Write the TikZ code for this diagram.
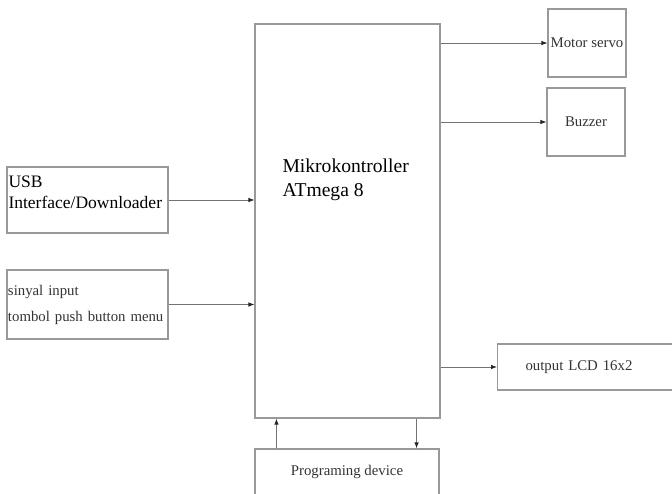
\documentclass[tikz,border=0pt]{standalone}
\usepackage{fontspec}
\setmainfont{Liberation Serif}
\usetikzlibrary{arrows.meta}

\tikzset{%
  % Specifications for style of blocks and arrows:
         box/.style = {rectangle, draw=black!40, line width=1.1pt, inner sep=0pt, font=\fontsize{14.8}{18}\selectfont, text=black!80},
         arr/.style = {draw=black!55, line width=0.8pt, -{Latex[length=6pt,width=4.5pt,color=black!85]}},
}

\begin{document}
\begin{tikzpicture}[x=1pt, y=-1pt]
    \useasboundingbox (0,0) rectangle (672,493);
    \clip (0,0) rectangle (672,493);

    % Draw blocks
    \node (mcu)     [box, minimum width=185pt, minimum height=394pt]                           at (347.5,221) {};
    \node (mcutxt)  [font=\fontsize{19.6}{24}\selectfont, align=left, anchor=base west]       at (279,196)   {Mikrokontroller\\ATmega 8};
    \node (usb)     [box, minimum width=161pt, minimum height=66pt]                            at (87.5,200)  {};
    \node (usbtxt)  [font=\fontsize{17.5}{21}\selectfont, align=left, anchor=base west]       at (5,208)     {USB\\Interface/Downloader};
    \node (btn)     [box, minimum width=161pt, minimum height=69pt, text width=159pt, align=left,
                     font=\fontsize{14.8}{26}\selectfont]                                       at (87.5,304.5) {sinyal input\\tombol push button menu};
    \node (servo)   [box, minimum width=78pt, minimum height=68pt]                             at (587,43)    {Motor servo};
    \node (buzzer)  [box, minimum width=78pt, minimum height=68pt]                             at (586,122)   {Buzzer};
    \node (lcd)     [box, minimum height=46pt, text width=124pt, inner xsep=28pt, align=left, anchor=west] at (497,367) {output LCD 16x2};
    \node (prog)    [box, minimum width=184pt, minimum height=46pt]                            at (347,472)   {Programing device};

    % Draw arrows
    \draw[arr]  (usb) -- (usb -| mcu.west);
    \draw[arr]  (btn) -- (btn -| mcu.west);
    \draw[arr]  (mcu.east |- servo) -- (servo);
    \draw[arr]  (mcu.east |- buzzer) -- (buzzer);
    \draw[arr]  (mcu.east |- lcd) -- (lcd);

    \draw[arr]  ([xshift=22pt]prog.north west) -- ([xshift=22pt]prog.north west |- mcu.south);
    \draw[arr]  ([xshift=-24pt]mcu.south east) -- ([xshift=-24pt]mcu.south east |- prog.north);
\end{tikzpicture}
\end{document}
